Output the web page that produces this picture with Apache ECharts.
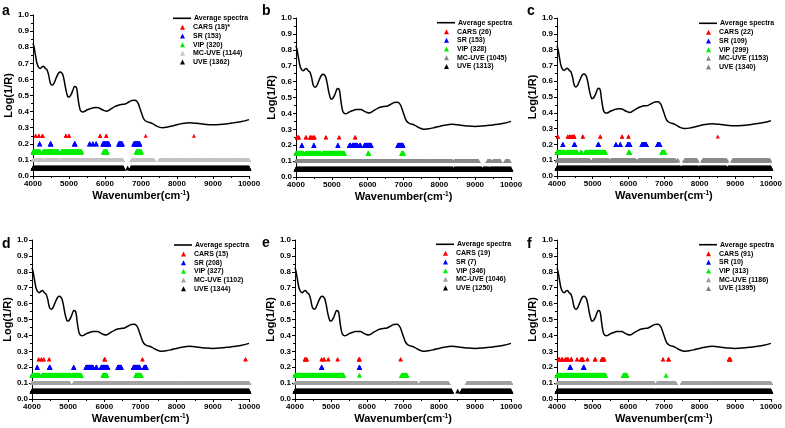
<!DOCTYPE html>
<html><head><meta charset="utf-8">
<script src="https://cdn.jsdelivr.net/npm/echarts@6/dist/echarts.min.js"></script>
<style>html,body{margin:0;padding:0;background:#fff}#c{width:785px;height:428px}</style>
</head><body><div id="c"></div>
<script>
// ---------------- DATA ----------------
const wavenumber = [4000,4030,4065,4110,4157,4203,4250,4295,4342,4388,4434,4480,4527,4573,4619,4665,4711,4757,4800,4831,4865,4896,4935,4970,5000,5034,5070,5108,5154,5200,5225,5246,5280,5311,5350,5385,5440,5495,5590,5680,5750,5819,5890,5957,6050,6120,6188,6280,6373,6460,6558,6650,6742,6835,6880,6927,6970,7019,7060,7112,7180,7250,7320,7389,7450,7527,7600,7712,7850,7989,8150,8358,8550,8820,9000,9189,9400,9559,9800,10000];
const avgSpectrum = [0.825,0.80,0.755,0.70,0.675,0.668,0.678,0.682,0.668,0.660,0.628,0.578,0.564,0.572,0.595,0.620,0.640,0.646,0.640,0.627,0.595,0.556,0.515,0.492,0.490,0.497,0.512,0.533,0.556,0.552,0.530,0.490,0.440,0.410,0.400,0.398,0.402,0.410,0.418,0.424,0.425,0.424,0.416,0.408,0.402,0.410,0.420,0.432,0.440,0.444,0.447,0.458,0.469,0.470,0.464,0.448,0.420,0.388,0.362,0.345,0.336,0.332,0.325,0.316,0.308,0.302,0.300,0.303,0.310,0.318,0.326,0.331,0.327,0.320,0.318,0.320,0.325,0.330,0.338,0.350];

// row level of each variable-selection method (CARS, SR, VIP, MC-UVE, UVE)
const levels = [0.25, 0.2, 0.15, 0.1, 0.05];

// legend labels per panel
const namesA = ['CARS (18)*','SR (153)','VIP (320)','MC-UVE (1144)','UVE (1362)'];
const namesB = ['CARS (26)','SR (153)','VIP (328)','MC-UVE (1045)','UVE (1313)'];
const namesC = ['CARS (22)','SR (109)','VIP (299)','MC-UVE (1153)','UVE (1340)'];
const namesD = ['CARS (15)','SR (208)','VIP (327)','MC-UVE (1102)','UVE (1344)'];
const namesE = ['CARS (19)','SR (7)','VIP (346)','MC-UVE (1046)','UVE (1250)'];
const namesF = ['CARS (91)','SR (10)','VIP (313)','MC-UVE (1186)','UVE (1395)'];

// selected wavenumber intervals [from, to] (cm-1)
const carsA = [[4070,4080],[4160,4170],[4260,4275],[4910,4920],[4995,5005],[5860,5870],[6030,6040],[7130,7130],[8470,8470]];
const srA   = [[4180,4190],[4480,4500],[5150,5170],[5570,5580],[5660,5670],[5750,5760],[5940,6110],[6380,6480],[6800,6970]];
const vipA  = [[4000,4200],[4280,4710],[4790,5350],[5960,6060],[6870,7010]];
const mcA   = [[4000,4290],[4340,4750],[4800,6490],[6740,7360],[7510,10000]];
const uveA  = [[4000,6510],[6630,6630],[6720,10000]];

const carsB = [[4020,4040],[4070,4085],[4270,4285],[4390,4410],[4440,4455],[4500,4520],[4830,4840],[5200,5210],[5645,5660]];
const srB   = [[4160,4170],[4495,4505],[5165,5175],[5490,5520],[5570,5720],[5780,5800],[5910,6100],[6840,6990]];
const vipB  = [[4000,4200],[4260,4690],[4750,5350],[6010,6030],[6950,7000]];
const mcB   = [[4000,5100],[5130,5840],[5870,7140],[7170,7700],[7730,8360],[8420,9090],[9350,9440],[9500,9700],[9850,9950]];
const uveB  = [[4000,8380],[8420,9180],[9220,9380],[9410,10000]];

const carsC = [[4020,4030],[4300,4310],[4350,4360],[4390,4400],[4430,4440],[4470,4490],[4720,4730],[5210,5220],[5820,5830],[6000,6010],[8510,8510]];
const srC   = [[4160,4170],[4480,4500],[5150,5170],[5650,5660],[5770,5780],[5980,6050],[6380,6510],[6820,6890]];
const vipC  = [[4000,4220],[4260,4570],[4670,4690],[4790,5360],[6010,6040],[6940,7020]];
const mcC   = [[4000,4920],[5000,5460],[5510,6210],[6280,7320],[7380,7390],[7580,7930],[8090,8760],[8930,9970]];
const uveC  = [[4000,7460],[7500,7960],[7990,8760],[8800,10000]];

const carsD = [[4180,4190],[4255,4265],[4320,4330],[4470,4480],[6000,6020],[7050,7060],[9900,9910]];
const srD   = [[4140,4150],[4480,4500],[5150,5160],[5490,5690],[5770,5790],[5910,6100],[6370,6470],[6800,6980],[7100,7160]];
const vipD  = [[4000,4210],[4280,4740],[4760,5080],[5120,5360],[5960,6070],[6870,7020]];
const mcD   = [[4000,5040],[5160,7330],[7360,7800],[7830,8070],[8100,10000]];
const uveD  = [[4000,10000]];

const carsE = [[4270,4290],[4320,4335],[4735,4745],[4800,4815],[4920,4930],[5180,5190],[5770,5800],[6930,6940]];
const srE   = [[4735,4750],[5785,5800]];
const vipE  = [[4000,5350],[5790,5790],[6960,7110]];
const mcE   = [[4000,7390],[7480,8260],[8780,9320],[9350,10000]];
const uveE  = [[4000,8350],[8520,8520],[8630,10000]];

const carsF = [[4040,4070],[4130,4160],[4230,4260],[4290,4320],[4390,4410],[4560,4570],[4670,4730],[4850,4860],[5060,5080],[5250,5330],[6970,6980],[7120,7140],[8820,8870]];
const srF   = [[4360,4380],[4740,4760]];
const vipF  = [[4000,5360],[5860,5960],[7060,7060]];
const mcF   = [[4000,6720],[6810,7330],[7510,10000]];
const uveF  = [[4000,6740],[6760,10000]];

const STEP = 4; // spectral sampling interval, cm-1
function expand(ranges, y){
  const out = [];
  ranges.forEach(([s,e]) => { for (let x = s; x <= e; x += STEP) out.push([x, y]); });
  return out;
}

// ---------------- LAYOUT / STYLE ----------------
const FONT = "'Liberation Sans', Arial, sans-serif";
const panels = [
  {letter:'a', lx:2,   ly:11,  grid:{left:33, top:15, width:216, height:161}, leg:[173,18.3], names:namesA, sel:[carsA,srA,vipA,mcA,uveA], gray:'#c4c4c4', uveLeg:null},
  {letter:'b', lx:262, ly:11,  grid:{left:296,top:18, width:215, height:159}, leg:[437,22.7], names:namesB, sel:[carsB,srB,vipB,mcB,uveB], gray:'#8a8a8a', uveLeg:null},
  {letter:'c', lx:527, ly:11,  grid:{left:557,top:18, width:215, height:158}, leg:[699,23.3], names:namesC, sel:[carsC,srC,vipC,mcC,uveC], gray:'#8a8a8a', uveLeg:'#808080'},
  {letter:'d', lx:2,   ly:244, grid:{left:32, top:240,width:217, height:159}, leg:[174,245], names:namesD, sel:[carsD,srD,vipD,mcD,uveD], gray:'#a4a4a4', uveLeg:null},
  {letter:'e', lx:262, ly:243, grid:{left:295,top:240,width:216, height:159}, leg:[436,244.3], names:namesE, sel:[carsE,srE,vipE,mcE,uveE], gray:'#a0a0a0', uveLeg:null},
  {letter:'f', lx:527, ly:244, grid:{left:557,top:240,width:215, height:159}, leg:[699,244.7], names:namesF, sel:[carsF,srF,vipF,mcF,uveF], gray:'#a0a0a0', uveLeg:'#808080'}
];
const baseColors = ['#ff0000','#0000ff','#00ee00',null,'#000000'];
const symSizes = [[4,4],[5,5],[5,5],[5,4],[5,5]];

const option = {animation:false, backgroundColor:'#fff', grid:[], xAxis:[], yAxis:[], series:[], legend:[], graphic:[]};
const spectrumPairs = wavenumber.map((w,k) => [w, avgSpectrum[k]]);
const txt = {fontFamily:FONT, fontWeight:'bold', color:'#000'};

panels.forEach((p, i) => {
  option.grid.push(p.grid);
  option.xAxis.push({
    gridIndex:i, type:'value', min:4000, max:10000, interval:1000,
    axisLine:{lineStyle:{color:'#000', width:1}},
    axisTick:{length:3, lineStyle:{color:'#000'}},
    minorTick:{show:true, splitNumber:2, length:2, lineStyle:{color:'#000'}},
    splitLine:{show:false},
    axisLabel:Object.assign({fontSize:8, margin:4, formatter:v => String(v)}, txt),
    name:'Wavenumber(cm{sup|-1})', nameLocation:'middle', nameGap:14,
    nameTextStyle:Object.assign({fontSize:11, rich:{sup:{fontSize:6.5, fontWeight:'bold', fontFamily:FONT, verticalAlign:'top', padding:[0,0,5,0]}}}, txt)
  });
  option.yAxis.push({
    gridIndex:i, type:'value', min:0, max:1, interval:0.1,
    axisLine:{show:true, lineStyle:{color:'#000', width:1}},
    axisTick:{show:true, length:3, lineStyle:{color:'#000'}},
    minorTick:{show:true, splitNumber:2, length:2, lineStyle:{color:'#000'}},
    splitLine:{show:false},
    axisLabel:Object.assign({fontSize:8, margin:4, formatter:v => v.toFixed(1)}, txt),
    name:'Log(1/R)', nameLocation:'middle', nameGap:18,
    nameTextStyle:Object.assign({fontSize:11}, txt)
  });
  option.series.push({
    name:'Average spectra', type:'line', xAxisIndex:i, yAxisIndex:i,
    data:spectrumPairs, smooth:0.3, symbol:'none', showSymbol:false,
    lineStyle:{color:'#000', width:1.5}, itemStyle:{color:'#000'}, z:3
  });
  p.sel.forEach((ranges, m) => {
    const col = m === 3 ? p.gray : baseColors[m];
    option.series.push({
      name:p.names[m], type:'scatter', xAxisIndex:i, yAxisIndex:i,
      data:expand(ranges, levels[m]), symbol:'triangle', symbolSize:symSizes[m],
      itemStyle:{color:col, opacity:1}, z:2, silent:true
    });
  });
  const [lx, ly] = p.leg;
  option.legend.push({
    data:[{name:'Average spectra', icon:'rect', itemStyle:{color:'#000'}}],
    left:lx, top:ly-4.5, padding:0, selectedMode:false,
    itemWidth:18, itemHeight:1.6, textStyle:Object.assign({fontSize:7, lineHeight:9, padding:[0,0,0,-2]}, txt)
  });
  option.legend.push({
    data:p.names.map((n, m) => (m === 4 && p.uveLeg) ? {name:n, itemStyle:{color:p.uveLeg}} : n),
    orient:'vertical', left:lx+7, top:ly+4.6, padding:0, itemGap:0, selectedMode:false,
    itemWidth:5, itemHeight:5,
    textStyle:Object.assign({fontSize:7, lineHeight:8.7, padding:[0,0,0,3]}, txt)
  });
  option.graphic.push({
    type:'text', x:p.lx, y:p.ly, silent:true,
    style:{text:p.letter, fontSize:14, fontWeight:'bold', fontFamily:FONT, fill:'#000', verticalAlign:'middle', align:'left'}
  });
});

const chart = echarts.init(document.getElementById('c'), null, {renderer:'canvas'});
chart.setOption(option);
</script>
</body></html>
